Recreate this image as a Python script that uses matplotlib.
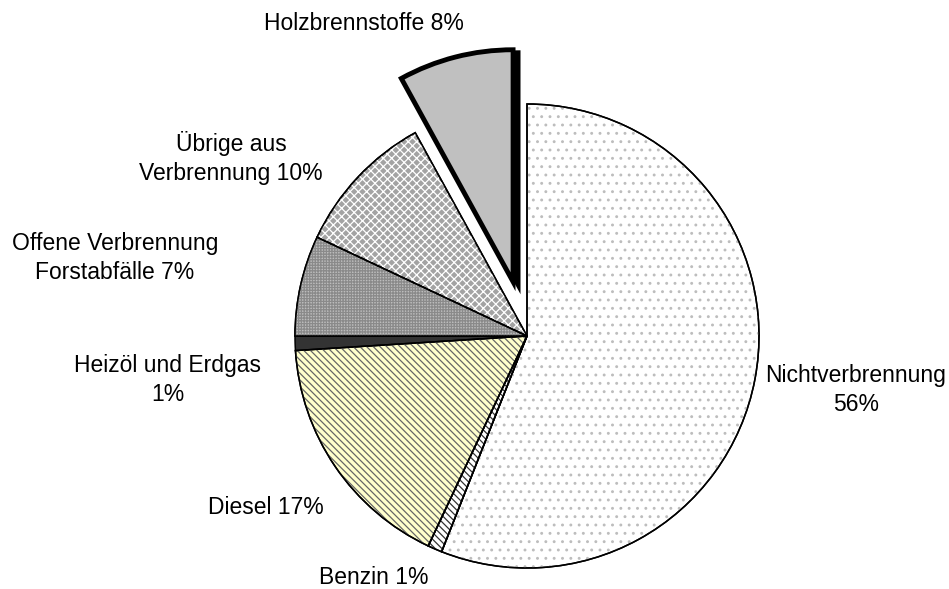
import matplotlib.pyplot as plt
from matplotlib.patches import Wedge

plt.rcParams['font.family'] = ['Liberation Sans', 'DejaVu Sans']
plt.rcParams['hatch.linewidth'] = 0.9

# slices clockwise from 12 o'clock
categories = ["Nichtverbrennung", "Benzin", "Diesel", "Heizöl und Erdgas",
              "Offene Verbrennung Forstabfälle", "Übrige aus Verbrennung",
              "Holzbrennstoffe"]
shares = [56, 1, 17, 1, 7, 10, 8]
labels = ["Nichtverbrennung\n56%", "Benzin 1%", "Diesel 17%", "Heizöl und Erdgas\n1%",
          "Offene Verbrennung\nForstabfälle 7%", "Übrige aus\nVerbrennung 10%",
          "Holzbrennstoffe 8%"]

W, H = 949, 589
face_colors = ["white", "white", "#ffffcc", "#333333", "#bdbdbd", "#a3a3a3", "#c0c0c0"]
hatches = ["..", "\\" * 5, "\\" * 5, None, "++++++", "xxxx", None]
hatch_colors = ["#bdbdbd", "#333333", "#666666", None, "#8a8a8a", "white", None]
label_pos = [(856, 390), (374, 577), (266, 507), (168, 380),
             (115, 258), (231, 158), (364, 23)]

fig = plt.figure(figsize=(W / 100, H / 100), dpi=100)
ax = fig.add_axes([0, 0, 1, 1])

center = (527, H - 336)
radius = 232
explode = [0, 0, 0, 0, 0, 0, 56]

wedges, _ = ax.pie(shares, startangle=90, counterclock=False, center=center,
                   radius=radius, explode=explode, colors=face_colors,
                   wedgeprops=dict(edgecolor="black", linewidth=1.1))

# exploded slice: drop shadow and heavy border
hw = wedges[-1]
shadow = Wedge((hw.center[0] + 5, hw.center[1] - 3), hw.r, hw.theta1, hw.theta2,
               facecolor="black", edgecolor="black", linewidth=3.5, zorder=0.5)
ax.add_patch(shadow)
hw.set_linewidth(3.5)
hw.set_zorder(2)

# pattern overlays
for w, h, hc in zip(wedges, hatches, hatch_colors):
    if h is None:
        continue
    ov = Wedge(w.center, w.r, w.theta1, w.theta2, facecolor="none",
               edgecolor=hc, linewidth=0, hatch=h, zorder=w.get_zorder() + 0.1)
    ax.add_patch(ov)
    outline = Wedge(w.center, w.r, w.theta1, w.theta2, facecolor="none",
                    edgecolor="black", linewidth=1.1, zorder=w.get_zorder() + 0.2)
    ax.add_patch(outline)

for lab, (x, y) in zip(labels, label_pos):
    ax.text(x, H - y, lab, ha="center", va="center", fontsize=16.5,
            linespacing=1.3)

ax.set_xlim(0, W)
ax.set_ylim(0, H)
ax.set_aspect("equal")
ax.axis("off")

fig.savefig("out.png", dpi=100)
